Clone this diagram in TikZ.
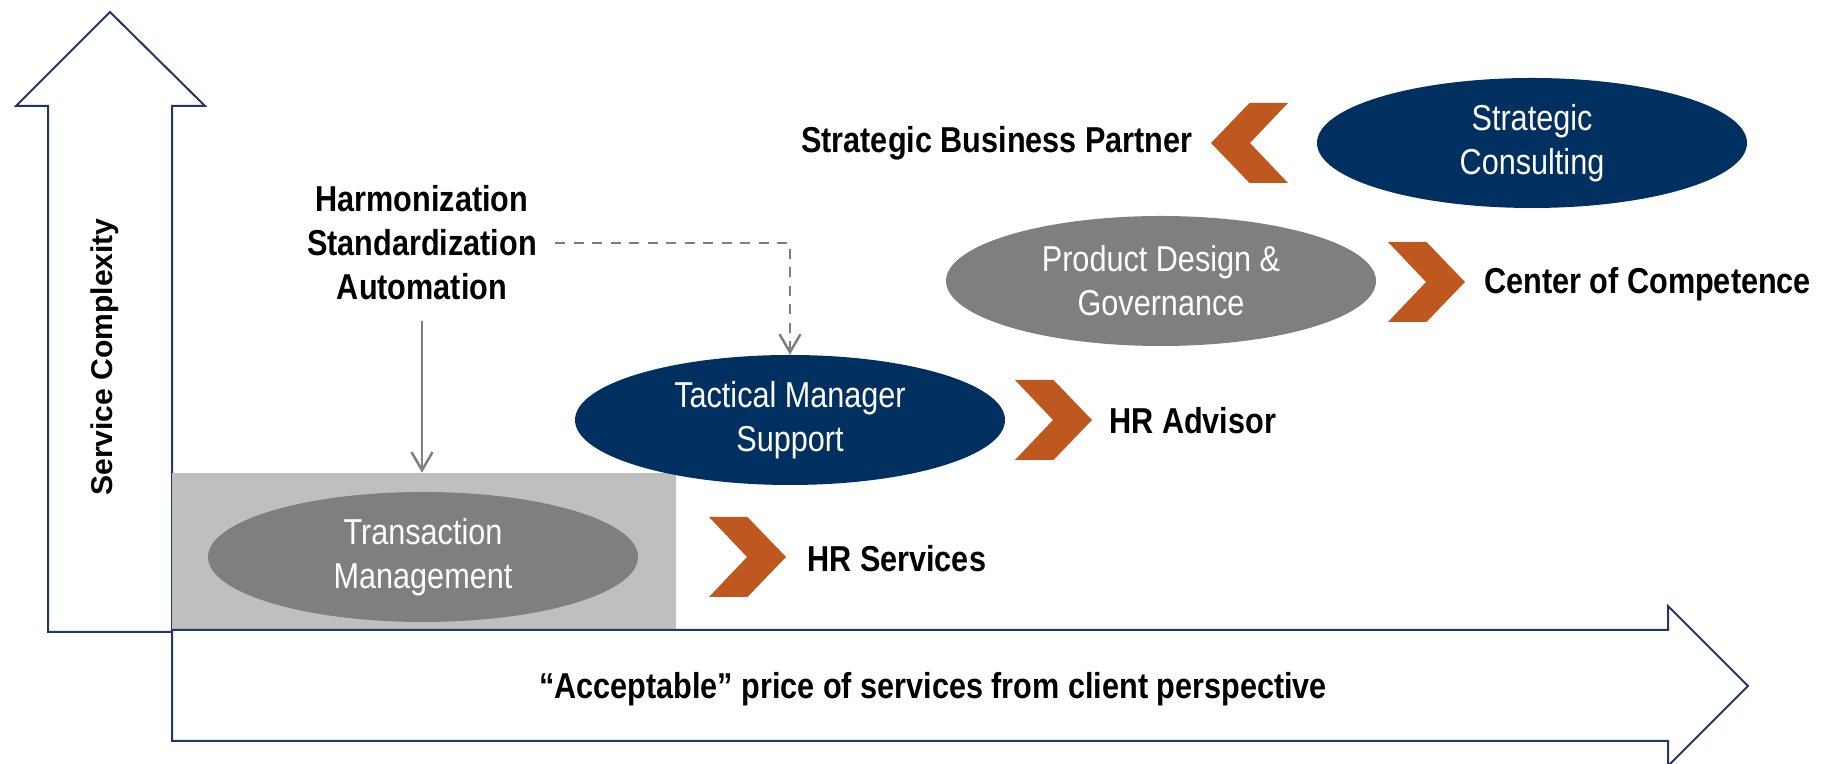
\documentclass[tikz,border=0pt]{standalone}
\usepackage{fontspec}
\setmainfont{Liberation Sans}
\newfontfamily\narrowsans{Liberation Sans}[FakeStretch=0.85]
\usetikzlibrary{arrows.meta,shapes.geometric}
\definecolor{navy}{RGB}{0,48,96}
\definecolor{midgray}{RGB}{127,127,127}
\definecolor{boxgray}{RGB}{191,191,191}
\definecolor{rust}{RGB}{190,88,30}
\definecolor{axisblue}{RGB}{31,56,100}
\begin{document}
\begin{tikzpicture}[>={Straight Barb[length=0.36cm,width=0.42cm]},
  oval/.style={ellipse, minimum width=8.6cm, minimum height=2.6cm, inner sep=0pt, text=white, align=center, font=\narrowsans\fontsize{20.5}{25}\selectfont},
  lbl/.style={inner sep=0pt, align=center, font=\narrowsans\bfseries\fontsize{20.5}{25}\selectfont},
  chev/.pic={\fill[rust] (-.77,.8) -- (0,.8) -- (.77,0) -- (0,-.8) -- (-.77,-.8) -- (-.01,0) -- cycle;}]
\useasboundingbox (0,0) rectangle (36.5,15.28);
% axes
\draw[axisblue, line width=0.04cm, fill=white] (0.96,2.64) -- (0.96,13.16) -- (0.32,13.16) -- (2.2,15.04) -- (4.1,13.16) -- (3.44,13.16) -- (3.44,2.64) -- cycle;
\node[fill=boxgray, minimum width=10.08cm, minimum height=3.14cm, inner sep=0pt] (tbox) at (8.48,4.25) {};
\draw[axisblue, line width=0.04cm, fill=white] (3.44,2.68) -- (33.36,2.68) -- (33.36,3.16) -- (34.96,1.56) -- (33.36,-0.04) -- (33.36,0.46) -- (3.44,0.46) -- cycle;
\node[rotate=90, font=\bfseries\fontsize{17.1}{20}\selectfont] (vaxis) at (2.1,8.14) {Service Complexity};
\node[lbl] (haxis) at (18.66,1.5) {“Acceptable” price of services from client perspective};

\node[oval, fill=midgray] (trans) at (8.46,4.14) {Transaction\\Management};
\node[oval, fill=navy] (tact) at (15.8,6.88) {Tactical Manager\\Support};
\node[oval, fill=midgray] (prod) at (23.22,9.66) {Product Design \&\\Governance};
\node[oval, fill=navy] (strat) at (30.64,12.42) {Strategic\\Consulting};

\pic[rotate=180] at (24.99,12.42) {chev};
\pic at (28.53,9.64) {chev};
\pic at (21.07,6.88) {chev};
\pic at (14.95,4.14) {chev};

\node[lbl, anchor=east] (sbp) at (23.86,12.42) {Strategic Business Partner};
\node[lbl, anchor=west] (coc) at (29.68,9.6) {Center of Competence};
\node[lbl, anchor=west] (hra) at (22.18,6.86) {HR Advisor};
\node[lbl, anchor=west] (hrs) at (16.14,4.1) {HR Services};
\node[lbl] (harm) at (8.44,10.42) {Harmonization\\Standardization\\Automation};

\draw[->, midgray, line width=0.05cm, shorten <=0.42cm] (harm.south) -- (harm.south |- tbox.north);
\draw[->, midgray, line width=0.05cm, dash pattern=on 0.2cm off 0.17cm, shorten <=0.36cm] (harm.east) -| (tact.north);
\end{tikzpicture}
\end{document}
